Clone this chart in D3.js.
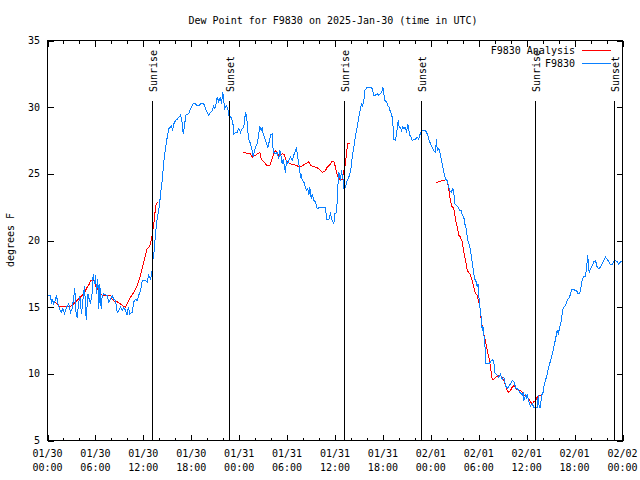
<!DOCTYPE html>
<html><head><meta charset="utf-8">
<script src="https://cdn.jsdelivr.net/npm/d3@7"></script>
<style>body{margin:0;background:#fff}svg{display:block}</style>
</head><body><svg id="c" width="640" height="480"></svg>
<script>
const chartTitle = "Dew Point for F9830 on 2025-Jan-30 (time in UTC)";
const yAxisLabel = "degrees F";
const seriesNames = ["F9830 Analysis", "F9830"];
const seriesColors = ["#ff0000", "#0a80ff"];
const xTickHours = [0, 6, 12, 18, 24, 30, 36, 42, 48, 54, 60, 66, 72];
const xTickDates = ["01/30","01/30","01/30","01/30","01/31","01/31","01/31","01/31","02/01","02/01","02/01","02/01","02/02"];
const xTickTimes = ["00:00","06:00","12:00","18:00","00:00","06:00","12:00","18:00","00:00","06:00","12:00","18:00","00:00"];
const yTicks = [5, 10, 15, 20, 25, 30, 35];
const sunriseHours = [13.18, 37.2, 61.16];
const sunsetHours = [22.85, 46.85, 70.95];

// hours since 01/30 00:00 UTC, dew point in F
const observed = [
[0.1,15.9],[0.38,15.9],[0.5,15.25],[0.66,15.55],[0.79,15.25],[1.0,15.55],[1.13,15.9],[1.29,15.25],[1.5,14.9],[1.72,14.6],[1.92,14.9],[2.13,14.55],[2.38,15.0],[2.67,15.25],[2.88,14.6],[3.09,14.9],[3.29,15.75],[3.42,16.4],[3.54,14.75],[3.72,14.2],[3.84,15.0],[4.04,15.85],[4.26,14.5],[4.47,15.75],[4.63,16.6],[4.85,14.05],[5.05,16.0],[5.26,15.5],[5.38,15.25],[5.6,16.1],[5.72,17.5],[5.89,16.75],[6.01,17.4],[6.14,16.0],[6.3,17.1],[6.42,14.9],[6.55,16.75],[6.72,14.9],[6.85,15.85],[7.05,16.0],[7.48,15.85],[7.68,15.4],[7.89,15.6],[8.1,15.85],[8.3,15.6],[8.51,15.5],[8.73,14.6],[8.93,14.75],[9.14,15.0],[9.35,14.75],[9.55,15.0],[9.77,14.75],[9.98,14.4],[10.11,15.0],[10.31,14.5],[10.61,14.6],[10.81,15.4],[11.02,15.6],[11.23,15.5],[11.43,15.9],[11.65,16.25],[11.86,17.0],[12.27,17.0],[12.48,16.9],[12.68,17.4],[12.9,17.1],[13.11,17.75],
[13.19,18.5],[13.31,19.0],[13.4,19.5],[13.52,20.5],[13.65,21.25],[13.81,21.9],[14.02,22.6],[14.15,23.5],[14.36,24.5],[14.56,25.9],[14.78,26.9],[14.99,27.75],[15.19,28.4],[15.4,28.5],[15.53,28.6],[15.65,28.25],[15.82,28.75],[16.03,29.0],[16.24,29.1],[16.44,29.25],[16.65,29.4],[16.82,29.0],[16.99,28.0],[17.15,28.6],[17.32,29.4],[17.69,29.5],[17.91,29.9],[18.24,30.25],[18.53,30.25],[18.75,30.1],[18.95,30.1],[19.16,30.25],[19.57,30.25],[19.78,29.9],[20.0,29.6],[20.2,29.4],[20.41,29.6],[20.62,29.75],[20.82,30.1],[20.91,29.9],[21.04,30.0],[21.25,30.75],[21.45,30.4],[21.66,30.75],[21.79,30.25],[21.95,31.1],[22.08,30.4],[22.2,29.9],[22.38,30.1],[22.58,29.9],[22.7,29.4],
[23.0,29.2],[23.2,28.9],[23.33,28.0],[23.54,28.1],[23.75,28.1],[23.95,28.4],[24.17,28.1],[24.38,28.4],[24.58,28.5],[24.79,29.6],[24.95,29.3],[25.05,28.3],[25.21,27.6],[25.42,27.25],[25.63,26.75],[25.76,26.25],[25.92,26.75],[26.05,27.0],[26.26,27.25],[26.46,28.0],[26.58,28.6],[26.76,28.25],[26.88,28.5],[27.01,28.0],[27.17,27.75],[27.42,27.25],[27.59,27.0],[27.8,27.5],[27.92,27.9],[28.14,28.0],[28.21,27.0],[28.34,26.6],[28.55,26.5],[28.76,26.6],[28.96,26.1],[29.09,26.75],[29.26,26.25],[29.39,25.75],[29.51,26.1],[29.68,25.5],[29.8,25.1],[29.93,26.0],[30.09,25.75],[30.22,26.0],[30.43,26.25],[30.64,26.0],[30.84,26.4],[31.05,26.75],[31.18,26.9],[31.34,26.25],[31.47,25.75],[31.59,25.25],[31.68,24.75],[31.81,24.9],[31.89,24.5],[32.09,24.4],[32.31,24.0],[32.43,23.75],[32.6,23.9],[32.72,23.4],[32.85,24.0],[33.02,23.1],[33.15,23.5],[33.35,23.0],[33.56,22.9],[33.77,22.4],[34.19,22.5],[34.81,22.5],[34.94,21.6],[35.23,21.6],[35.44,22.0],[35.65,21.5],[35.85,21.25],[35.98,22.0],[36.19,22.1],[36.28,23.0],[36.35,24.0],[36.48,25.1],[36.69,24.5],[36.81,25.25],[37.03,24.5],[37.1,23.9],[37.32,24.0],[37.53,24.5],[37.73,24.75],
[37.85,25.0],[38.03,25.5],[38.15,26.25],[38.36,27.0],[38.57,27.9],[38.78,28.5],[38.98,29.25],[39.19,29.9],[39.32,30.25],[39.44,30.1],[39.61,30.5],[39.73,31.25],[39.91,31.4],[40.03,31.5],[40.45,31.5],[40.66,31.4],[40.86,30.9],[41.07,30.9],[41.28,31.0],[41.49,30.9],[41.7,31.0],[41.91,31.25],[41.99,31.5],[42.11,31.0],[42.24,30.5],[42.45,30.4],[42.61,30.1],[42.79,30.0],[42.95,29.6],[43.08,29.5],[43.2,29.1],[43.29,28.4],[43.37,27.6],[43.58,27.5],[43.79,28.4],[43.91,29.0],[44.04,28.5],[44.2,28.5],[44.33,28.25],[44.45,28.5],[44.62,28.4],[44.83,28.5],[44.95,28.1],[45.12,28.75],[45.24,28.25],[45.37,27.9],[45.54,27.75],[45.66,27.5],[45.87,27.6],[46.08,27.6],[46.29,27.75],[46.49,27.6],[46.71,28.1],[46.92,28.25],[47.33,28.25],[47.55,28.0],[47.75,27.6],[47.96,27.25],[48.17,27.0],[48.37,26.75],[48.58,26.6],[48.71,27.6],[48.8,26.75],[49.0,26.9],[49.21,26.4],
[49.42,25.75],[49.62,25.1],[49.84,24.6],[50.05,24.5],[50.25,24.0],[50.38,23.75],[50.55,23.6],[50.75,23.9],[50.88,23.6],[51.0,22.75],[51.21,22.6],[51.43,22.5],[51.63,22.25],[51.8,22.25],[51.93,21.9],[52.13,21.75],[52.25,21.25],[52.43,20.9],[52.63,20.0],[52.76,19.75],[52.88,19.5],[53.06,18.9],[53.18,18.4],[53.38,17.5],[53.51,17.1],[53.68,16.9],[53.81,16.5],[53.93,16.75],[54.0,15.9],[54.22,14.6],[54.35,14.0],
[54.43,13.25],[54.51,13.6],[54.63,13.0],[54.76,12.25],[54.84,11.5],[54.88,10.75],[55.26,10.75],[55.47,10.9],[55.68,11.05],[55.89,11.0],[55.97,10.1],[56.31,9.9],[56.51,9.75],[56.72,9.95],[56.94,9.6],[57.14,9.75],[57.35,9.1],[57.56,8.9],[57.76,9.05],[57.98,9.25],[58.18,9.5],[58.39,9.4],[58.51,9.25],[58.6,8.9],[58.81,8.9],[59.02,8.75],[59.14,8.6],[59.32,8.5],[59.44,8.4],[59.57,8.55],[59.64,8.0],[59.85,8.4],[59.98,8.2],[60.07,8.5],[60.27,7.9],[60.48,7.6],[60.69,7.75],[60.89,7.5],[61.32,7.5],[61.45,8.4],[61.57,7.5],[61.73,7.5],[61.86,8.4],[62.02,8.5],[62.15,9.0],[62.36,9.5],[62.57,10.0],[62.77,10.5],[62.99,11.0],[63.2,11.5],[63.4,12.0],[63.61,12.6],[63.82,13.25],[63.95,13.0],
[64.11,13.4],[64.24,13.75],[64.36,14.0],[64.49,14.75],[64.65,15.0],[64.86,15.1],[64.99,15.4],[65.15,15.6],[65.36,15.75],[65.49,16.0],[65.61,16.3],[65.9,16.3],[66.24,16.25],[66.4,16.05],[66.58,16.0],[66.74,16.25],[66.87,16.75],[66.99,17.1],[67.15,17.3],[67.37,17.3],[67.49,17.9],[67.58,18.5],[67.66,18.9],[67.74,17.9],[67.87,17.6],[67.99,17.9],[68.21,18.1],[68.41,18.4],[68.62,18.5],[68.83,18.0],[69.03,17.9],[69.25,18.0],[69.46,18.25],[69.66,18.5],[69.87,18.75],[70.08,18.6],[70.29,18.4],[70.5,18.2],[70.71,18.2],[70.91,18.4],[71.12,18.5],[71.34,18.4],[71.54,18.2],[71.75,18.4],[71.96,18.4]
];

const analysisSeg1 = [[0.59,15.5],[0.79,15.4],[1.21,15.25],[1.54,15.05],[2.88,15.05],[3.29,15.25],[3.72,15.5],[4.13,15.75],[4.55,16.0],[4.97,16.5],[5.26,16.75],[5.38,17.0],[5.6,17.05],[5.8,17.0],[6.01,16.6],[6.22,16.4],[6.55,16.0],[6.85,15.9],[7.89,15.9],[8.1,15.6],[8.39,15.45],[8.73,15.4],[9.14,15.25],[9.43,15.1],[9.77,15.0],[9.98,15.25],[10.39,15.75],[10.81,16.1],[11.23,16.6],[11.65,17.4],[11.86,17.9],[12.06,18.4],[12.27,18.9],[12.48,19.4],[12.69,19.5],[12.9,19.75],[13.11,20.4],[13.31,21.25],[13.44,22.0],[13.61,22.75],[13.81,22.9]];
const analysisSeg2 = [[24.5,26.6],[25.0,26.55],[25.42,26.5],[25.63,26.25],[26.05,26.4],[26.26,26.5],[26.59,26.6],[26.76,26.1],[27.09,25.9],[27.51,25.6],[27.84,25.6],[28.01,25.9],[28.34,26.5],[28.55,26.75],[28.76,26.55],[28.96,26.4],[29.18,26.4],[29.39,26.5],[29.68,26.45],[29.8,26.1],[30.01,25.9],[30.43,25.75],[30.84,25.7],[31.27,25.6],[31.59,25.5],[31.89,25.6],[32.31,25.75],[32.72,25.9],[33.02,25.6],[33.56,25.5],[33.97,25.4],[34.4,25.1],[34.81,25.25],[35.02,25.5],[35.44,25.75],[35.65,25.95],[35.85,25.95],[36.06,25.5],[36.28,24.9],[36.48,24.7],[36.69,24.5],[36.9,24.6],[37.1,25.25],[37.32,25.75],[37.44,26.6],[37.6,27.25],[37.94,27.25]];
const analysisSeg3 = [[48.58,24.3],[49.0,24.4],[49.42,24.5],[49.84,24.55],[50.05,24.5],[50.18,24.1],[50.38,23.25],[50.59,22.6],[50.88,22.4],[51.09,21.6],[51.3,21.0],[51.5,20.4],[51.71,20.25],[51.93,19.9],[52.13,19.1],[52.34,18.5],[52.56,17.75],[52.76,17.6],[52.97,17.4],[53.18,17.0],[53.38,16.5],[53.59,16.0],[53.81,15.9],[54.0,15.4],[54.22,14.75],[54.31,14.0],[54.43,13.6],[54.63,13.0],[54.84,12.5],[55.06,11.75],[55.26,11.25],[55.47,10.5],[55.68,9.6],[55.89,9.6],[56.1,9.75],[56.51,9.9],[56.72,9.9],[56.94,9.75],[57.14,9.5],[57.35,9.1],[57.56,8.75],[57.76,8.6],[57.98,8.75],[58.18,9.0],[58.39,9.1],[58.6,8.95],[58.81,8.8],[59.22,8.75],[59.44,8.6],[59.64,8.4],[60.07,8.25],[60.27,8.1],[60.48,7.9],[60.69,7.75],[60.89,7.9],[61.1,8.0],[61.32,8.25],[61.73,8.4]];

const FONT = "'DejaVu Sans Mono', monospace";
const svg = d3.select("#c");
svg.append("rect").attr("width",640).attr("height",480).attr("fill","#fff");
const L = 47, R = 622, T = 40, B = 440;
const x = d3.scaleLinear().domain([0, 72]).range([L, R]);
const y = d3.scaleLinear().domain([5, 35]).range([B, T]);
const g = svg.append("g").attr("transform","translate(0.5,0.5)");

// title
svg.append("text").attr("x", 333).attr("y", 24).attr("text-anchor","middle")
  .attr("font-family", FONT).attr("font-size", 10).text(chartTitle);

// y label
svg.append("text").attr("transform","translate(14,240) rotate(-90)").attr("text-anchor","middle")
  .attr("font-family", FONT).attr("font-size", 10).text(yAxisLabel);

// data lines
const line = d3.line().x(d => x(d[0])).y(d => y(d[1]));
[analysisSeg1, analysisSeg2, analysisSeg3].forEach(seg => {
  g.append("path").attr("d", line(seg)).attr("fill","none").attr("stroke", seriesColors[0])
    .attr("stroke-width",1).attr("shape-rendering","crispEdges");
});
g.append("path").attr("d", line(observed)).attr("fill","none").attr("stroke", seriesColors[1])
  .attr("stroke-width",1).attr("shape-rendering","crispEdges");

// axes ticks (all four sides)
const minorHours = d3.range(0, 73, 2).filter(h => h % 6 !== 0);
function styleAxis(sel){
  sel.select(".domain").remove();
  sel.selectAll("line").attr("stroke","#000").attr("shape-rendering","crispEdges");
  sel.selectAll("text").remove();
}
g.append("g").attr("transform",`translate(0,${B})`).call(d3.axisBottom(x).tickValues(xTickHours).tickSize(-6)).call(styleAxis);
g.append("g").attr("transform",`translate(0,${B})`).call(d3.axisBottom(x).tickValues(minorHours).tickSize(-3)).call(styleAxis);
g.append("g").attr("transform",`translate(0,${T})`).call(d3.axisTop(x).tickValues(xTickHours).tickSize(-6)).call(styleAxis);
g.append("g").attr("transform",`translate(0,${T})`).call(d3.axisTop(x).tickValues(minorHours).tickSize(-3)).call(styleAxis);
g.append("g").attr("transform",`translate(${L},0)`).call(d3.axisLeft(y).tickValues(yTicks).tickSize(-6)).call(styleAxis);
g.append("g").attr("transform",`translate(${R},0)`).call(d3.axisRight(y).tickValues(yTicks).tickSize(-6)).call(styleAxis);

// frame
g.append("rect").attr("x", L).attr("y", T).attr("width", R - L).attr("height", B - T)
  .attr("fill","none").attr("stroke","#000").attr("shape-rendering","crispEdges");

// y tick labels
svg.selectAll(".ylab").data(yTicks).join("text").attr("class","ylab")
  .attr("x", 40).attr("y", d => y(d) + 4).attr("text-anchor","end")
  .attr("font-family", FONT).attr("font-size", 10).text(d => d);

// x tick labels
const xl = svg.selectAll(".xlab").data(xTickHours).join("text").attr("class","xlab")
  .attr("text-anchor","middle").attr("font-family", FONT).attr("font-size", 10);
xl.append("tspan").attr("x", d => x(d) + 0.5).attr("y", 457).text((d,i) => xTickDates[i]);
xl.append("tspan").attr("x", d => x(d) + 0.5).attr("y", 471).text((d,i) => xTickTimes[i]);

// sunrise / sunset markers
const sunEvents = sunriseHours.map(h => ({h, label:"Sunrise"})).concat(sunsetHours.map(h => ({h, label:"Sunset"})));
const topY = y.invert ? B - 0.85 * (B - T) : 100;
sunEvents.forEach(ev => {
  const px = Math.round(x(ev.h));
  g.append("line").attr("x1", px).attr("x2", px).attr("y1", topY).attr("y2", B)
    .attr("stroke","#000").attr("shape-rendering","crispEdges");
  svg.append("text").attr("transform", `translate(${px + 4.5},92) rotate(-90)`)
    .attr("font-family", FONT).attr("font-size", 10).text(ev.label);
});

// legend
const legY = [50, 63];
seriesNames.forEach((name, i) => {
  svg.append("text").attr("x", 575).attr("y", legY[i] + 4).attr("text-anchor","end")
    .attr("font-family", FONT).attr("font-size", 10).text(name);
  g.append("line").attr("x1", 581).attr("x2", 610).attr("y1", legY[i]).attr("y2", legY[i])
    .attr("stroke", seriesColors[i]).attr("shape-rendering","crispEdges");
});
</script>
</body></html>
